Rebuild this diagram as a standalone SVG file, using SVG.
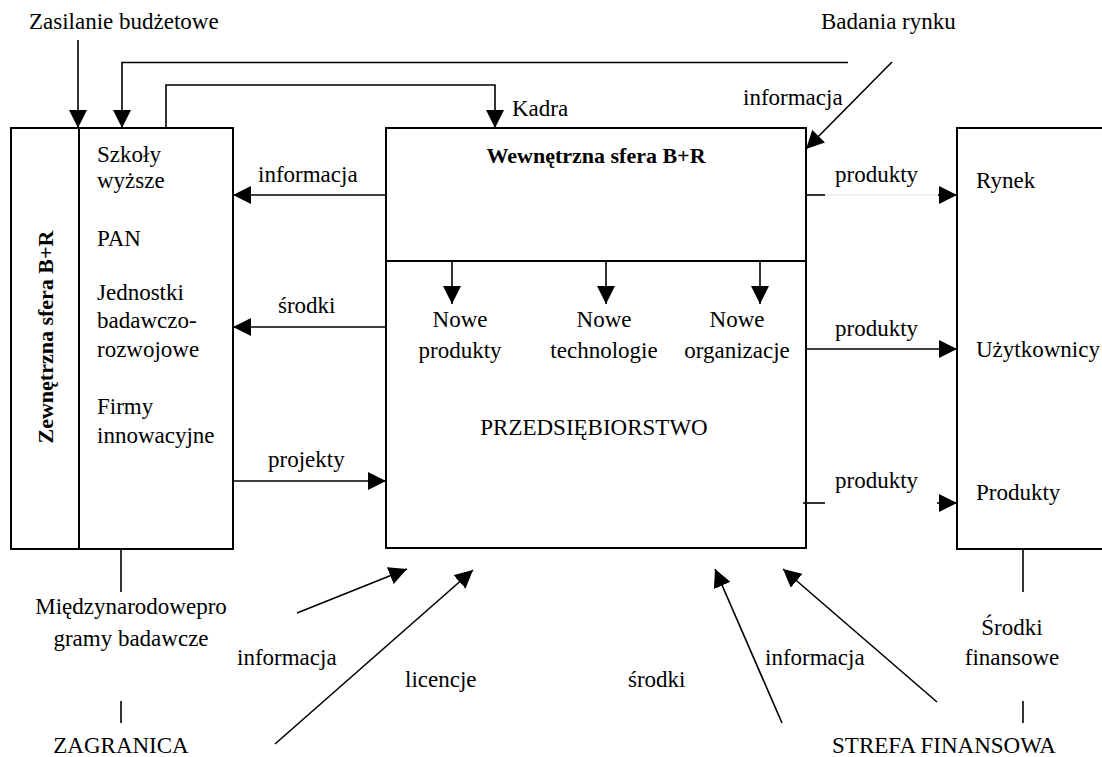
<svg xmlns="http://www.w3.org/2000/svg" width="1102" height="757" viewBox="0 0 1102 757">
<style>
text{font-family:"Liberation Serif","Times New Roman",serif;font-size:23px;fill:#000}
.b{font-weight:bold;font-size:22px}
.box{fill:none;stroke:#000;stroke-width:2}
.c{fill:none;stroke:#000;stroke-width:1.6}
.m{text-anchor:middle}
</style>
<defs>
<marker id="ah" markerUnits="userSpaceOnUse" markerWidth="18" markerHeight="18" refX="18" refY="9" orient="auto" viewBox="0 0 18 18">
<path d="M0,0 L18,9 L0,18 z" fill="#000"/>
</marker>
</defs>
<rect width="1102" height="757" fill="#fff"/>

<g id="zewnetrzna-sfera">
<rect class="box" x="11" y="128" width="222" height="421"/>
<line class="box" x1="79" y1="128" x2="79" y2="549"/>
<text class="b m" transform="translate(53,337) rotate(-90)">Zewnętrzna sfera B+R</text>
<text x="97" y="162">Szkoły</text>
<text x="97" y="188">wyższe</text>
<text x="97" y="246">PAN</text>
<text x="97" y="300">Jednostki</text>
<text x="97" y="328">badawczo-</text>
<text x="97" y="357">rozwojowe</text>
<text x="97" y="414">Firmy</text>
<text x="97" y="443">innowacyjne</text>
</g>

<g id="przedsiebiorstwo">
<rect class="box" x="386" y="128" width="420" height="420"/>
<line class="box" x1="386" y1="261" x2="806" y2="261"/>
<text class="b m" x="596" y="163">Wewnętrzna sfera B+R</text>
<text class="m" x="460" y="327">Nowe</text>
<text class="m" x="460" y="358">produkty</text>
<text class="m" x="604" y="327">Nowe</text>
<text class="m" x="604" y="358">technologie</text>
<text class="m" x="737" y="327">Nowe</text>
<text class="m" x="737" y="358">organizacje</text>
<text class="m" x="594" y="435">PRZEDSIĘBIORSTWO</text>
</g>

<g id="rynek">
<rect class="box" x="957" y="128" width="160" height="421"/>
<text x="976" y="188">Rynek</text>
<text x="976" y="357">Użytkownicy</text>
<text x="976" y="500">Produkty</text>
</g>

<g id="zasilanie"><text x="29" y="29">Zasilanie budżetowe</text></g>
<g id="badania"><text x="821" y="29">Badania rynku</text></g>
<g id="miedzynarodowe">
<text class="m" x="131" y="614">Międzynarodowepro</text>
<text class="m" x="131" y="646">gramy badawcze</text>
</g>
<g id="zagranica"><text class="m" x="121" y="753">ZAGRANICA</text></g>
<g id="strefa"><text class="m" x="944" y="753">STREFA FINANSOWA</text></g>
<g id="srodki-finansowe">
<text class="m" x="1012" y="635">Środki</text>
<text class="m" x="1012" y="665">finansowe</text>
</g>

<g id="connectors">
<line class="c" x1="78" y1="40" x2="78" y2="128" marker-end="url(#ah)"/>
<polyline class="c" points="848,62.5 122,62.5 122,128" marker-end="url(#ah)"/>
<polyline class="c" points="166,128 166,85 495,85 495,128" marker-end="url(#ah)"/>
<text x="512" y="116">Kadra</text>
<line class="c" x1="892" y1="62" x2="806" y2="149" marker-end="url(#ah)"/>
<text x="743" y="105">informacja</text>

<line class="c" x1="386" y1="195" x2="233" y2="195" marker-end="url(#ah)"/>
<text x="258" y="182">informacja</text>
<line class="c" x1="386" y1="327" x2="233" y2="327" marker-end="url(#ah)"/>
<text x="278" y="313">środki</text>
<line class="c" x1="233" y1="481" x2="386" y2="481" marker-end="url(#ah)"/>
<text x="268" y="467">projekty</text>

<line class="c" x1="452" y1="261" x2="452" y2="304" marker-end="url(#ah)"/>
<line class="c" x1="606" y1="261" x2="606" y2="304" marker-end="url(#ah)"/>
<line class="c" x1="760" y1="261" x2="760" y2="304" marker-end="url(#ah)"/>

<line class="c" x1="806" y1="195" x2="825" y2="195"/>
<line x1="825" y1="195" x2="940" y2="195" stroke="#e6e6e6" stroke-width="1"/>
<line class="c" x1="938" y1="195" x2="957" y2="195" marker-end="url(#ah)"/>
<text x="835" y="182">produkty</text>
<line class="c" x1="806" y1="349" x2="957" y2="349" marker-end="url(#ah)"/>
<text x="835" y="336">produkty</text>
<line class="c" x1="803" y1="503" x2="825" y2="503"/>
<line class="c" x1="937" y1="503" x2="957" y2="503" marker-end="url(#ah)"/>
<text x="835" y="488">produkty</text>

<line class="c" x1="121" y1="549" x2="121" y2="592"/>
<line class="c" x1="121" y1="701" x2="121" y2="723"/>
<line class="c" x1="1023" y1="549" x2="1023" y2="592"/>
<line class="c" x1="1023" y1="701" x2="1023" y2="723"/>

<line class="c" x1="297" y1="613" x2="407" y2="569" marker-end="url(#ah)"/>
<text x="237" y="665">informacja</text>
<line class="c" x1="275" y1="744" x2="473" y2="570" marker-end="url(#ah)"/>
<text x="405" y="687">licencje</text>
<line class="c" x1="782" y1="723" x2="715" y2="569" marker-end="url(#ah)"/>
<text x="628" y="687">środki</text>
<line class="c" x1="937" y1="702" x2="783" y2="569" marker-end="url(#ah)"/>
<text x="765" y="665">informacja</text>
</g>
</svg>
